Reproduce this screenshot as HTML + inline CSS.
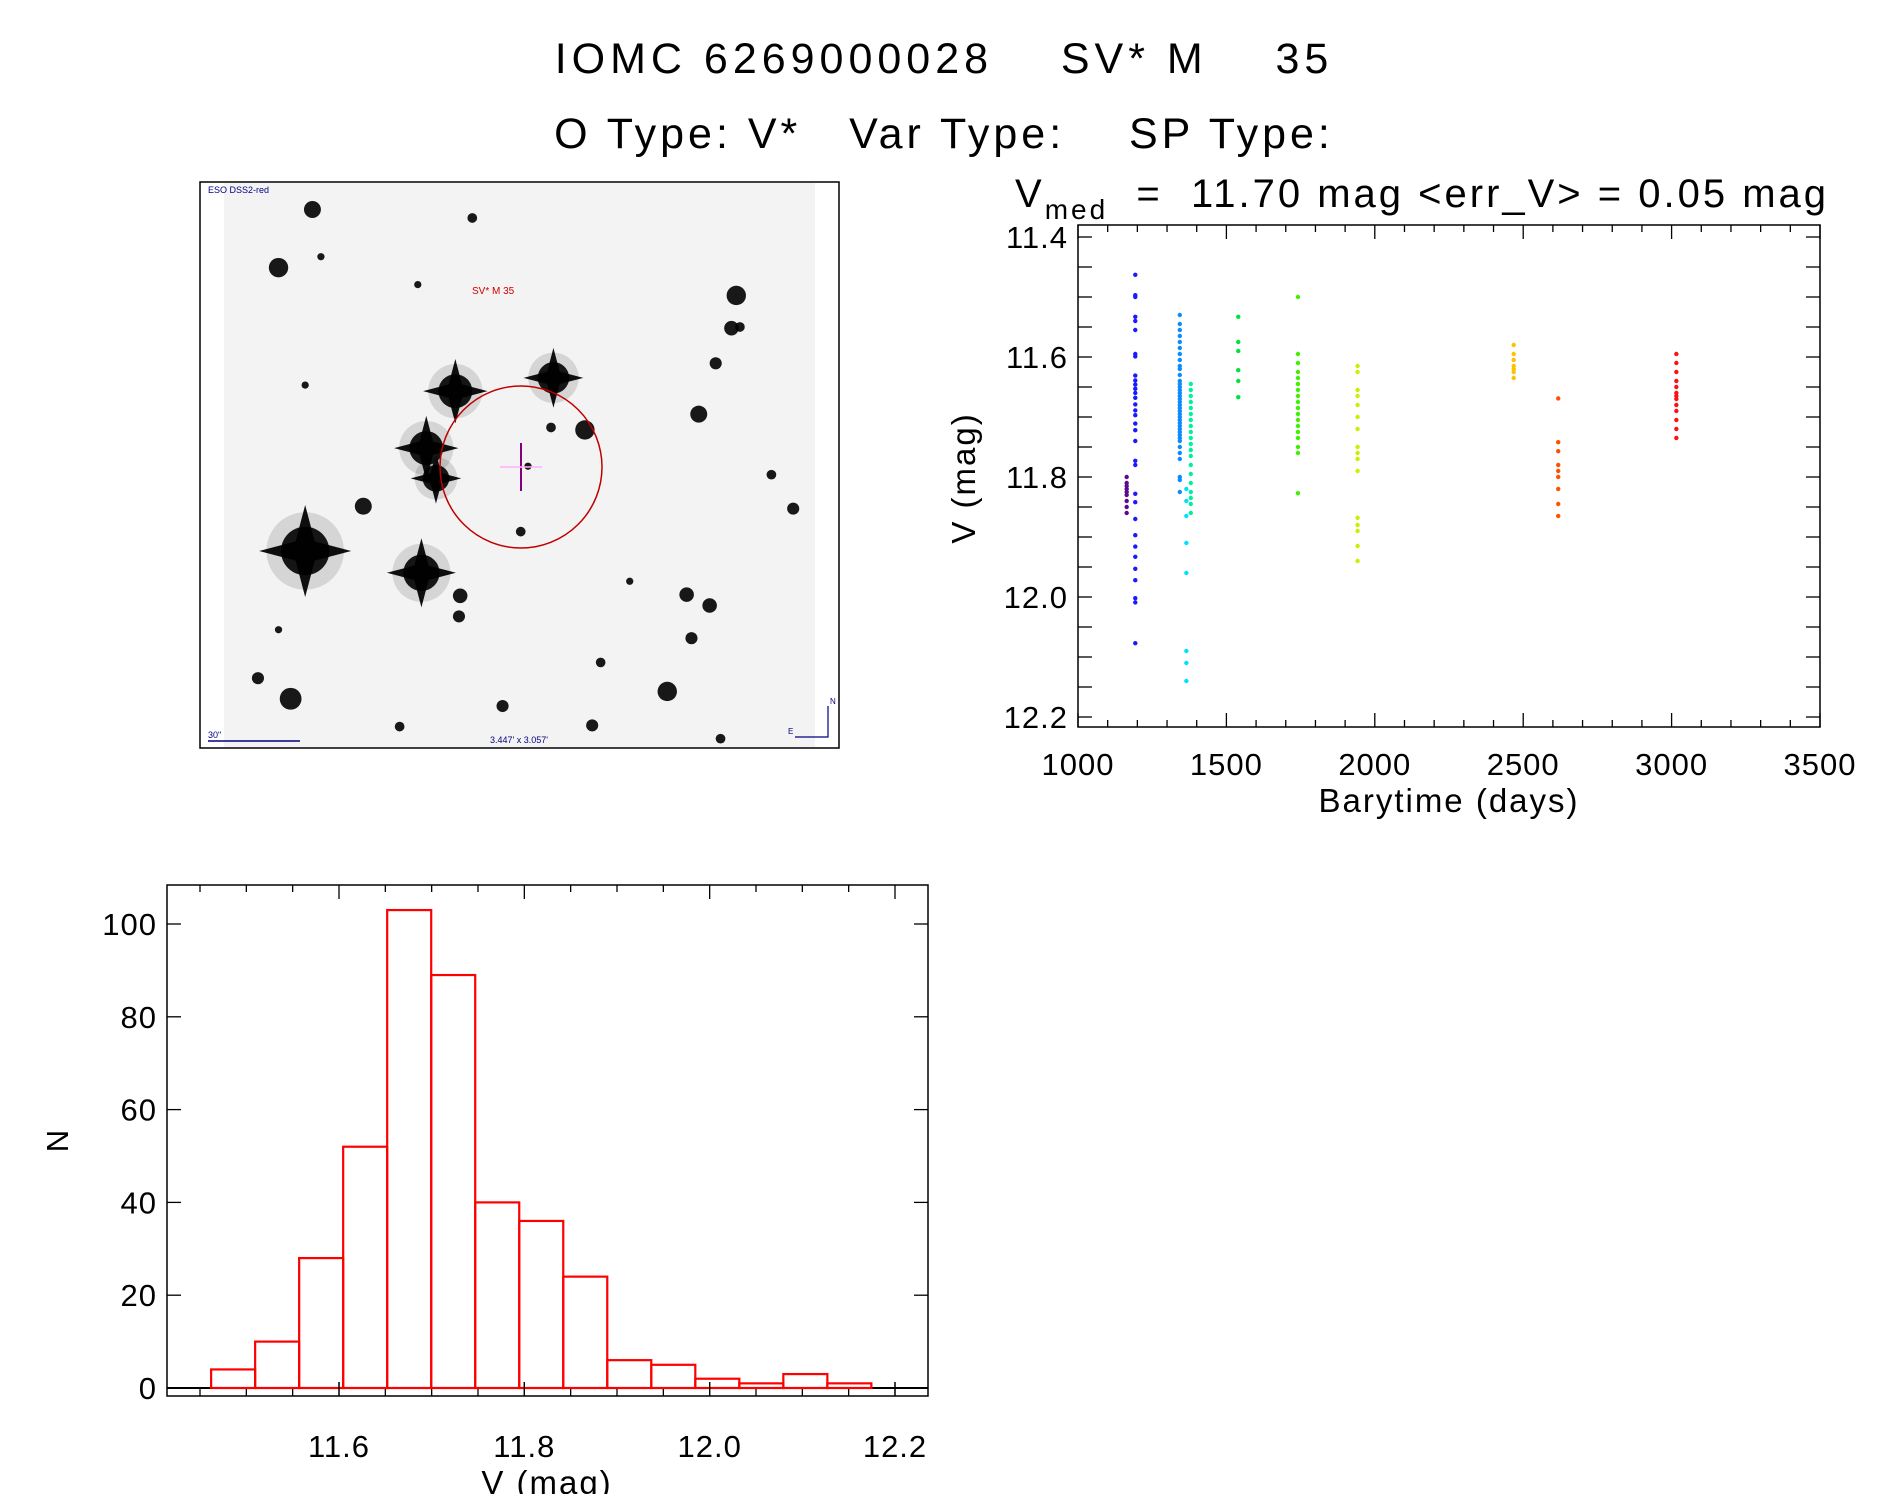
<!DOCTYPE html>
<html><head><meta charset="utf-8"><style>
html,body{margin:0;padding:0;background:#fff;}
svg{display:block;font-family:"Liberation Sans",sans-serif;}
</style></head><body>
<svg id="root" width="1889" height="1494" viewBox="0 0 1889 1494" xmlns="http://www.w3.org/2000/svg">
<rect width="1889" height="1494" fill="#fff"/>
<text x="944" y="73" font-size="43" text-anchor="middle" letter-spacing="5" xml:space="preserve">IOMC 6269000028    SV* M    35</text>
<text x="944" y="148" font-size="43" text-anchor="middle" letter-spacing="4" xml:space="preserve">O Type: V*   Var Type:    SP Type:</text>

<g id="img">
  <rect x="200" y="182" width="639" height="566" fill="#fff" stroke="#000" stroke-width="1.5"/>
  <rect x="224" y="183" width="591" height="564" fill="#f3f3f3"/>
  <rect x="815" y="183" width="23" height="564" fill="#fff"/>
  <g id="stars"></g>
  <circle cx="521" cy="467" r="81" fill="none" stroke="#c00000" stroke-width="1.5"/>
  <line x1="521" y1="443" x2="521" y2="491" stroke="#800080" stroke-width="2"/>
  <line x1="500" y1="467" x2="542" y2="467" stroke="#ffb0ff" stroke-width="1.5"/>
  <text x="472" y="294" font-size="10" fill="#d00000">SV* M 35</text>
  <text x="208" y="193" font-size="9" fill="#000080">ESO DSS2-red</text>
  <text x="208" y="738" font-size="9" fill="#000080">30"</text>
  <line x1="208" y1="741" x2="300" y2="741" stroke="#000080" stroke-width="1.5"/>
  <text x="490" y="743" font-size="9" fill="#000080">3.447' x 3.057'</text>
  <polyline points="795,737 828,737 828,706" fill="none" stroke="#000080" stroke-width="1.2"/>
  <text x="830" y="704" font-size="8" fill="#000080">N</text>
  <text x="788" y="734" font-size="8" fill="#000080">E</text>
</g>

<g id="lc">
  <text x="1015" y="207" font-size="40" letter-spacing="3" xml:space="preserve">V<tspan font-size="28" dy="12">med</tspan><tspan dy="-12">  =  11.70 mag &lt;err_V&gt; = 0.05 mag</tspan></text>
  <rect x="1078" y="225" width="742" height="502" fill="none" stroke="#000" stroke-width="1.5"/>
  <g id="lcticks"></g>
  <g id="lcpts"></g>
  <text transform="translate(975,478) rotate(-90)" font-size="33" text-anchor="middle" letter-spacing="2">V (mag)</text>
  <text x="1449" y="812" font-size="33" text-anchor="middle" letter-spacing="2">Barytime (days)</text>
</g>

<g id="hist">
  <rect x="167" y="885" width="761" height="511" fill="none" stroke="#000" stroke-width="1.5"/>
  <g id="hbars"></g>
  <g id="hticks"></g>
  <text transform="translate(68,1141) rotate(-90)" font-size="31" text-anchor="middle">N</text>
  <text x="547" y="1494" font-size="33" text-anchor="middle" letter-spacing="2">V (mag)</text>
</g>
</svg>
<script>
const NS="http://www.w3.org/2000/svg";
function mk(tag,attrs,parent){const e=document.createElementNS(NS,tag);for(const k in attrs)e.setAttribute(k,attrs[k]);parent.appendChild(e);return e;}

// ---------- light curve data ----------
const lcGroupTimes=[1164,1193,1343,1365,1380,1540,1741,1942,2468,2618,3016];
const lcGroupColors=["#5a0a8c","#1a1aff","#0a8cff","#00e0ff","#00f0a0","#00e040","#40f000","#c8f000","#ffc000","#ff5000","#ff1010"];
const lcGroupValues=[
 [11.80,11.81,11.82,11.83,11.84,11.85,11.86,11.815,11.825],
 [11.463,11.497,11.50,11.533,11.54,11.555,11.595,11.599,11.631,11.639,11.646,11.653,11.66,11.668,11.679,11.689,11.697,11.711,11.722,11.74,11.773,11.78,11.828,11.842,11.87,11.897,11.916,11.933,11.953,11.972,12.002,12.009,12.077],
 [11.53,11.545,11.555,11.565,11.575,11.585,11.595,11.605,11.615,11.62,11.63,11.64,11.645,11.65,11.655,11.66,11.665,11.67,11.675,11.68,11.685,11.69,11.695,11.70,11.705,11.71,11.715,11.72,11.725,11.73,11.735,11.74,11.75,11.76,11.77,11.80,11.805,11.825],
 [11.82,11.84,11.865,11.91,11.96,12.09,12.11,12.14],
 [11.645,11.655,11.665,11.675,11.685,11.695,11.705,11.715,11.725,11.735,11.745,11.755,11.765,11.78,11.795,11.81,11.825,11.835,11.845,11.86],
 [11.533,11.575,11.59,11.622,11.64,11.667],
 [11.50,11.595,11.61,11.625,11.635,11.645,11.655,11.665,11.675,11.685,11.695,11.705,11.715,11.725,11.735,11.75,11.76,11.827],
 [11.615,11.625,11.655,11.665,11.68,11.70,11.72,11.75,11.76,11.77,11.79,11.868,11.88,11.89,11.915,11.94],
 [11.58,11.595,11.605,11.615,11.62,11.625,11.635],
 [11.669,11.742,11.757,11.78,11.79,11.80,11.82,11.845,11.865],
 [11.595,11.61,11.625,11.64,11.65,11.66,11.665,11.67,11.68,11.69,11.705,11.72,11.735]
];
const lcXTicks=[1000,1500,2000,2500,3000,3500];
const lcYTicks=[11.4,11.6,11.8,12.0,12.2];

const LX0=1078,LX1=1820;
function lcx(t){return LX0+(t-1000)/2500*(LX1-LX0);}
function lcy(v){return 237+(v-11.4)/0.8*(717-237);}
const lct=document.getElementById('lcticks');
for(let t=1000;t<=3500;t+=100){const len=(t%500===0)?14:7;
  mk('line',{x1:lcx(t),x2:lcx(t),y1:727,y2:727-len,stroke:'#000','stroke-width':1.3},lct);
  mk('line',{x1:lcx(t),x2:lcx(t),y1:225,y2:225+len,stroke:'#000','stroke-width':1.3},lct);}
for(let i=0;i<=17;i++){const y=lcy(11.4+i*0.05);if(y>727)break;
  mk('line',{x1:LX0,x2:LX0+14,y1:y,y2:y,stroke:'#000','stroke-width':1.3},lct);
  mk('line',{x1:LX1,x2:LX1-14,y1:y,y2:y,stroke:'#000','stroke-width':1.3},lct);}
lcXTicks.forEach(t=>{const e=mk('text',{x:lcx(t),y:775,'font-size':31,'text-anchor':'middle','letter-spacing':1},lct);e.textContent=t;

});
lcYTicks.forEach(v=>{const e=mk('text',{x:1068,y:lcy(v)+11,'font-size':31,'text-anchor':'end','letter-spacing':1},lct);e.textContent=v.toFixed(1);

});
const lcp=document.getElementById('lcpts');
lcGroupValues.forEach((arr,g)=>{arr.forEach(v=>{
  const c=mk('circle',{cx:lcx(lcGroupTimes[g]),cy:lcy(v),r:2.2,fill:lcGroupColors[g]},lcp);
  
  
});});

// ---------- histogram data ----------
const histStart=11.462;
const histBinWidth=0.0475;
const histCounts=[4,10,28,52,103,89,40,36,24,6,5,2,1,3,1];
const histXTicks=[11.6,11.8,12.0,12.2];
const histYTicks=[0,20,40,60,80,100];

function hx(v){return 339+(v-11.6)/0.6*(895-339);}
function hy(n){return 1388-n/100*(1388-924);}
const hb=document.getElementById('hbars');
mk('line',{x1:167,x2:hx(histStart),y1:hy(0),y2:hy(0),stroke:'#000','stroke-width':2},hb);
mk('line',{x1:hx(histStart+histCounts.length*histBinWidth),x2:928,y1:hy(0),y2:hy(0),stroke:'#000','stroke-width':2},hb);
histCounts.forEach((n,i)=>{const a=hx(histStart+i*histBinWidth),b=hx(histStart+(i+1)*histBinWidth);
  const r=mk('rect',{x:a,y:hy(n),width:b-a,height:hy(0)-hy(n),fill:'none',stroke:'#ff0000','stroke-width':2.2},hb);
  
  });
const ht=document.getElementById('hticks');
for(let k=0;k<=17;k++){const v=11.45+k*0.05;if(v>12.23)break;const x=hx(v);
  const major=Math.abs((v*100)%20)<0.5||Math.abs((v*100)%20-20)<0.5;const len=major?14:7;
  mk('line',{x1:x,x2:x,y1:1396,y2:1396-len,stroke:'#000','stroke-width':1.3},ht);
  mk('line',{x1:x,x2:x,y1:885,y2:885+len,stroke:'#000','stroke-width':1.3},ht);}
histXTicks.forEach(v=>{const x=hx(v);
  mk('line',{x1:x,x2:x,y1:1396,y2:1382,stroke:'#000','stroke-width':1.3},ht);
  const e=mk('text',{x:x,y:1457,'font-size':31,'text-anchor':'middle','letter-spacing':1},ht);e.textContent=v.toFixed(1);
  
  });
histYTicks.forEach(n=>{const y=hy(n);
  mk('line',{x1:167,x2:181,y1:y,y2:y,stroke:'#000','stroke-width':1.3},ht);
  mk('line',{x1:928,x2:914,y1:y,y2:y,stroke:'#000','stroke-width':1.3},ht);
  const e=mk('text',{x:157,y:y+11,'font-size':31,'text-anchor':'end','letter-spacing':1},ht);e.textContent=n;
  
  });

// ---------- finder stars ----------
const stars=[[258,173,7],[230,221,8],[390,180,4],[608,244,8],[604,271,6],[591,300,5],[376,323,14],[457,312,13],[352,370,14],[360,395,11],[483,355,8],[577,342,7],[252,455,20],[348,473,15],[300,418,7],[380,492,6],[379,509,5],[567,491,6],[586,500,6],[571,527,5],[551,571,8],[240,577,9],[213,560,5],[415,583,5],[489,599,5],[655,420,5],[496,547,4],[455,353,4],[436,385,3],[430,439,4],[265,212,3],[345,235,3],[252,318,3],[611,270,4],[637,392,4],[230,520,3],[330,600,4],[595,610,4],[520,480,3]];
const sg=document.getElementById('stars');
const S=1.211;
stars.forEach(([x,y,r])=>{const cx=x*S,cy=y*S,rr=r*S;
  if(r>=11){const s=rr*1.9,w=rr*0.5;
    mk('polygon',{points:`${cx-s},${cy} ${cx},${cy-w} ${cx+s},${cy} ${cx},${cy+w}`,fill:'#111'},sg);
    mk('polygon',{points:`${cx},${cy-s} ${cx+w},${cy} ${cx},${cy+s} ${cx-w},${cy}`,fill:'#111'},sg);
    mk('circle',{cx:cx,cy:cy,r:rr*1.6,fill:'#000',opacity:0.12},sg);}
  mk('circle',{cx:cx,cy:cy,r:rr,fill:'#000',opacity:0.9},sg);
});
</script>
</body></html>
